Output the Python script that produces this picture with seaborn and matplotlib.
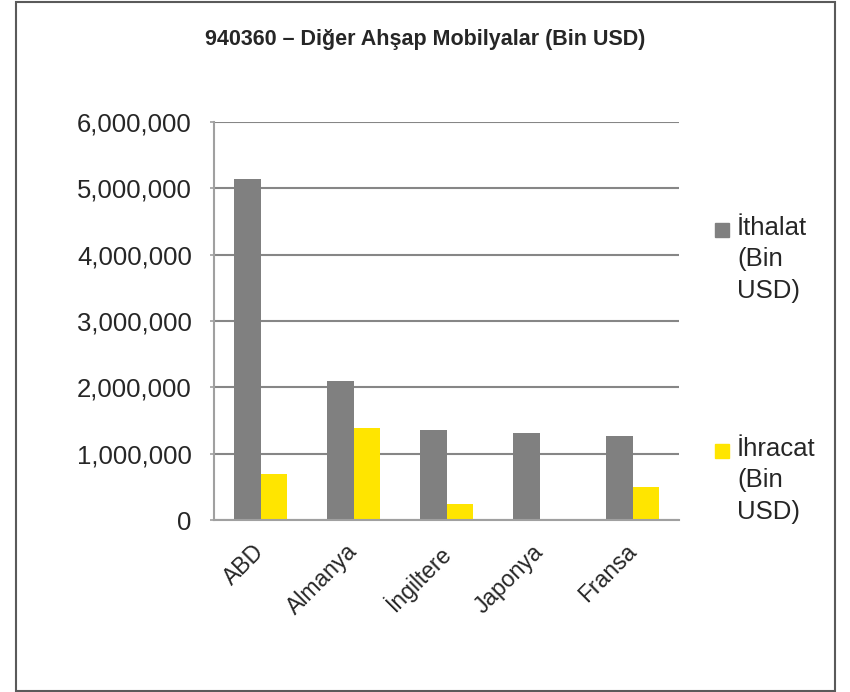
import matplotlib
matplotlib.use("Agg")
import matplotlib.pyplot as plt
import matplotlib.patches as mpatches
import matplotlib.transforms as mtransforms
from matplotlib.ticker import FuncFormatter
from matplotlib.legend_handler import HandlerPatch
import seaborn as sns
import pandas as pd

countries = ["ABD", "Almanya", "İngiltere", "Japonya", "Fransa"]
ithalat = [5140000, 2090000, 1350000, 1310000, 1260000]
ihracat = [700000, 1390000, 240000, 5000, 500000]
series_names = ["İthalat\n(Bin\nUSD)", "İhracat\n(Bin\nUSD)"]
colors = ["#808080", "#FFE500"]
title = "940360 – Diğer Ahşap Mobilyalar (Bin USD)"

df = pd.DataFrame({
    "country": countries * 2,
    "value": ithalat + ihracat,
    "series": [series_names[0]] * len(countries) + [series_names[1]] * len(countries),
})

sns.set_theme(style="white")
plt.rcParams["font.family"] = ["Liberation Sans", "DejaVu Sans"]

fig = plt.figure(figsize=(8.5, 6.92), dpi=100)
ax = fig.add_axes([214 / 850, 1 - 520 / 692, 465 / 850, 398 / 692])

sns.barplot(data=df, x="country", y="value", hue="series", palette=colors,
            width=0.57, gap=0, saturation=1, ax=ax, legend=False, edgecolor="none")

ax.set_ylim(0, 6000000)
ax.set_yticks(range(0, 6000001, 1000000))
ax.yaxis.set_major_formatter(FuncFormatter(lambda v, p: f"{int(v):,}"))
ax.set_xlabel("")
ax.set_ylabel("")
ax.grid(axis="y", color="#868686", linewidth=1.5)
ax.set_axisbelow(True)
for side in ["top", "right"]:
    ax.spines[side].set_visible(False)
for side in ["left", "bottom"]:
    ax.spines[side].set_color("#a0a0a0")
    ax.spines[side].set_linewidth(1.5)
ax.tick_params(axis="y", which="major", left=True, length=3, width=1.2,
               color="#a0a0a0", labelsize=18.5, pad=13)
ax.tick_params(axis="x", bottom=False, labelsize=16.5, pad=8.5)
shift_left = mtransforms.ScaledTranslation(-8 / 100, 0, fig.dpi_scale_trans)
for lbl in ax.get_xticklabels():
    lbl.set_rotation(45)
    lbl.set_ha("right")
    lbl.set_rotation_mode("anchor")
    lbl.set_transform(lbl.get_transform() + shift_left)

fig.text(0.5, 1 - 39 / 692, title, ha="center", va="center",
         fontsize=15.5, fontweight="bold")


def first_line_square(legend, orig_handle, xdescent, ydescent, width, height, fontsize):
    size = 0.545 * fontsize
    shift = 1.245 * fontsize
    return mpatches.Rectangle((-xdescent + width - size, -ydescent + shift),
                              size, size)


handles = [mpatches.Patch(color=c, label=n) for c, n in zip(colors, series_names)]
leg = fig.legend(handles=handles, loc="upper left",
                 bbox_to_anchor=(701 / 850, 1 - 203 / 692),
                 frameon=False, fontsize=18.5, labelspacing=5.2, handlelength=0.6,
                 handletextpad=0.3, borderpad=0,
                 handler_map={mpatches.Patch: HandlerPatch(patch_func=first_line_square)})
for txt in leg.get_texts():
    txt.set_linespacing(1.4)

fig.patches.append(mpatches.Rectangle((16 / 850, 1 / 692), 819 / 850, 689 / 692,
                                      transform=fig.transFigure, fill=False,
                                      edgecolor="#5a5a5a", linewidth=1.5))

fig.savefig("out.png", dpi=100)
